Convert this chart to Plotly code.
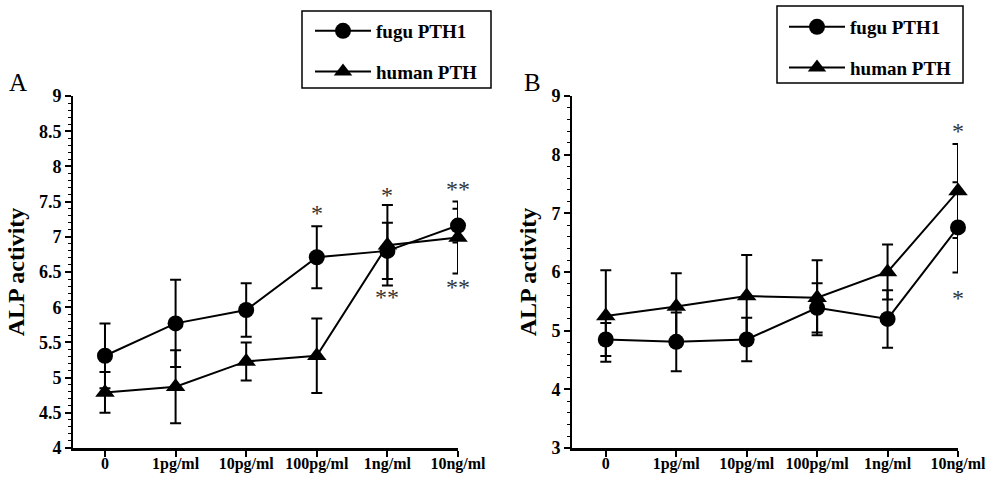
import plotly.graph_objects as go

categories = ["0", "1pg/ml", "10pg/ml", "100pg/ml", "1ng/ml", "10ng/ml"]

# Panel A
a_fugu = [5.31, 5.77, 5.96, 6.71, 6.80, 7.16]
a_fugu_err = [0.46, 0.62, 0.38, 0.44, 0.40, 0.24]
a_human = [4.79, 4.87, 5.23, 5.31, 6.88, 6.99]
a_human_err = [0.29, 0.52, 0.27, 0.53, 0.57, 0.51]

# Panel B
b_fugu = [4.85, 4.81, 4.85, 5.39, 5.20, 6.76]
b_fugu_err = [0.28, 0.50, 0.37, 0.42, 0.49, 0.77]
b_human = [5.25, 5.41, 5.59, 5.56, 6.00, 7.38]
b_human_err = [0.78, 0.57, 0.70, 0.64, 0.47, 0.80]

# significance marks: (category, y, text)
a_marks = [("100pg/ml", 7.38, "*"), ("1ng/ml", 7.63, "*"), ("1ng/ml", 6.19, "**"),
           ("10ng/ml", 7.72, "**"), ("10ng/ml", 6.33, "**")]
b_marks = [("10ng/ml", 8.45, "*"), ("10ng/ml", 5.60, "*")]

W, H = 988, 482
ML, MR, MT, MB = 0, 0, 96, 34
PH = H - MT - MB
FONT = "Liberation Serif"


def px_x(p):
    return p / W


def px_y(p):
    return (H - MB - p) / PH


fig = go.Figure()


def add_series(y, err, name, symbol, xa, ya, legend, size):
    fig.add_trace(go.Scatter(
        x=categories, y=y, name=name, mode="lines+markers",
        xaxis=xa, yaxis=ya, legend=legend, legendgroup=name + legend,
        line=dict(color="black", width=2),
        marker=dict(symbol=symbol, size=size, color="black"),
        error_y=dict(type="data", array=err, visible=True, color="black",
                     thickness=2, width=5.5),
        cliponaxis=False,
    ))


add_series(a_fugu, a_fugu_err, "fugu PTH1", "circle", "x", "y", "legend", 16)
add_series(a_human, a_human_err, "human PTH", "triangle-up", "x", "y", "legend", 17)
add_series(b_fugu, b_fugu_err, "fugu PTH1", "circle", "x2", "y2", "legend2", 16)
add_series(b_human, b_human_err, "human PTH", "triangle-up", "x2", "y2", "legend2", 17)

xax = dict(type="category", categoryorder="array", categoryarray=categories,
           showline=True, linecolor="black", linewidth=3, ticks="outside",
           ticklen=6, tickwidth=2, tickcolor="black", showgrid=False,
           zeroline=False, ticklabelstandoff=-7,
           tickfont=dict(family=FONT, size=16, color="black", weight="bold"))
yax_common = dict(showline=True, linecolor="black", linewidth=2, ticks="outside",
                  ticklen=6, tickwidth=1.5, tickcolor="black", showgrid=False,
                  zeroline=False, tickfont=dict(family=FONT, size=18, color="black", weight="bold"),
                  title=dict(text="<b>ALP activity</b>",
                             font=dict(family=FONT, size=24, color="black"),
                             standoff=8))

fig.update_layout(
    width=W, height=H,
    margin=dict(l=ML, r=MR, t=MT, b=MB, autoexpand=False),
    paper_bgcolor="white", plot_bgcolor="white",
    font=dict(family=FONT, color="black"),
    xaxis=dict(xax, domain=[px_x(73), px_x(458)], range=[-0.453, 5.0], anchor="y"),
    yaxis=dict(yax_common, domain=[0, 1], range=[4, 9], dtick=0.5, anchor="x",
               minor=dict(dtick=0.1, ticks="outside", ticklen=3, tickcolor="black", tickwidth=1)),
    xaxis2=dict(xax, domain=[px_x(572), px_x(958)], range=[-0.48, 5.0], anchor="y2"),
    yaxis2=dict(yax_common, domain=[0, 1], range=[3, 9], dtick=1, anchor="x2",
                minor=dict(dtick=0.2, ticks="outside", ticklen=3, tickcolor="black", tickwidth=1)),
    legend=dict(x=px_x(310), y=px_y(12), xanchor="left", yanchor="top",
                bgcolor="rgba(0,0,0,0)", borderwidth=0, itemwidth=56,
                tracegroupgap=13,
                font=dict(family=FONT, size=19, color="black", weight="bold")),
    legend2=dict(x=px_x(784), y=px_y(8), xanchor="left", yanchor="top",
                 bgcolor="rgba(0,0,0,0)", borderwidth=0, itemwidth=56,
                 tracegroupgap=13,
                 font=dict(family=FONT, size=19, color="black", weight="bold")),
    showlegend=True,
)

# legend frames
fig.add_shape(type="rect", xref="paper", yref="paper",
              x0=px_x(302), x1=px_x(491), y0=px_y(88), y1=px_y(11),
              line=dict(color="black", width=1.5))
fig.add_shape(type="rect", xref="paper", yref="paper",
              x0=px_x(777), x1=px_x(963), y0=px_y(83), y1=px_y(6),
              line=dict(color="black", width=1.5))

# panel letters
fig.add_annotation(text="A", x=px_x(18), y=px_y(82), xref="paper", yref="paper",
                   xanchor="center", yanchor="middle",
                   showarrow=False, font=dict(family=FONT, size=25, color="black"))
fig.add_annotation(text="B", x=px_x(532), y=px_y(82), xref="paper", yref="paper",
                   xanchor="center", yanchor="middle",
                   showarrow=False, font=dict(family=FONT, size=25, color="black"))

for cat, yv, txt in a_marks:
    fig.add_annotation(text=txt, x=cat, y=yv, xref="x", yref="y", showarrow=False,
                       yshift=-3, font=dict(family=FONT, size=24, color="#333"))
for cat, yv, txt in b_marks:
    fig.add_annotation(text=txt, x=cat, y=yv, xref="x2", yref="y2", showarrow=False,
                       yshift=-3, font=dict(family=FONT, size=24, color="#333"))

fig.write_html("out.html", config={"displayModeBar": False},
               post_script="document.body.style.margin='0px';")
